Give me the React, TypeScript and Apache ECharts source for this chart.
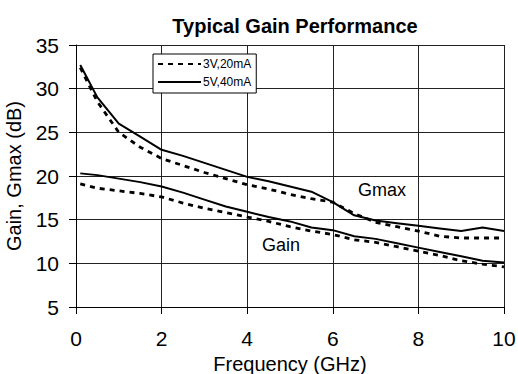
import React, { useEffect, useRef } from "react";
import * as echarts from "echarts";

const freq = [0.1, 0.5, 1, 1.5, 2, 2.5, 3, 3.5, 4, 4.5, 5, 5.5, 6, 6.5, 7, 7.5, 8, 8.5, 9, 9.5, 10];
const gmax5V = [32.7, 29.0, 26.0, 24.5, 23.0, 22.3, 21.5, 20.7, 19.9, 19.4, 18.8, 18.2, 17.0, 15.5, 14.9, 14.6, 14.3, 14.0, 13.7, 14.1, 13.7];
const gmax3V = [32.4, 28.5, 25.0, 23.3, 22.0, 21.2, 20.4, 19.7, 19.0, 18.5, 17.9, 17.4, 17.0, 15.7, 14.7, 14.2, 13.7, 13.1, 12.9, 12.9, 12.9];
const gain5V = [20.3, 20.1, 19.7, 19.3, 18.8, 18.1, 17.3, 16.5, 15.9, 15.3, 14.8, 14.1, 13.8, 13.1, 12.8, 12.3, 11.8, 11.3, 10.8, 10.3, 10.1];
const gain3V = [19.1, 18.6, 18.3, 18.0, 17.6, 16.9, 16.3, 15.8, 15.3, 14.8, 14.2, 13.7, 13.3, 12.7, 12.4, 11.9, 11.4, 10.9, 10.3, 9.9, 9.6];
const legendNames = ["3V,20mA", "5V,40mA"];
const titleText = "Typical Gain Performance";
const xName = "Frequency (GHz)";
const yName = "Gain, Gmax (dB)";
const curveLabels = ["Gmax", "Gain"];

const pairs = (ys: number[]) => freq.map((f, i) => [f, ys[i]]);

export default function App() {
  const ref = useRef<HTMLDivElement>(null);
  useEffect(() => {
    const chart = echarts.init(ref.current!, null, { renderer: "svg" });
    const font = "'Liberation Sans', Arial, sans-serif";
    const dashed = { color: "#000", width: 2.8, type: [5, 5] as any };
    const solid = { color: "#000", width: 2 };
    chart.setOption({
      animation: false,
      backgroundColor: "#fff",
      textStyle: { fontFamily: font },
      title: {
        text: titleText,
        left: 290,
        textAlign: "center",
        top: 11,
        textStyle: { fontFamily: font, fontSize: 20, fontWeight: "bold", color: "#000" },
      },
      legend: {
        left: 153,
        top: 54,
        orient: "vertical",
        itemWidth: 43,
        itemHeight: 12,
        itemGap: 6,
        padding: [4, 5, 5, 4],
        backgroundColor: "#fff",
        borderColor: "#000",
        borderWidth: 1,
        borderRadius: 0,
        data: legendNames,
        itemStyle: { color: "rgba(0,0,0,0)", borderWidth: 0, opacity: 0 },
        textStyle: { fontFamily: font, fontSize: 12, color: "#000", padding: [0, 0, 0, -3] },
      },
      grid: { left: 76, right: 14, top: 45, bottom: 67, outerBoundsMode: "none", containLabel: false },
      xAxis: {
        type: "value",
        min: 0,
        max: 10,
        interval: 2,
        name: xName,
        nameLocation: "middle",
        nameGap: 45,
        nameTextStyle: { fontFamily: font, fontSize: 20, color: "#000" },
        axisLine: { show: true, lineStyle: { color: "#000", width: 1 } },
        axisTick: { show: true, length: 7, lineStyle: { color: "#000" } },
        axisLabel: { fontFamily: font, fontSize: 21, color: "#000", margin: 21 },
        splitLine: { show: true, lineStyle: { color: "#222", width: 1 } },
      },
      yAxis: {
        type: "value",
        min: 5,
        max: 35,
        interval: 5,
        name: yName,
        nameLocation: "middle",
        nameGap: 52,
        nameRotate: 90,
        nameTextStyle: { fontFamily: font, fontSize: 20, color: "#000" },
        axisLine: { show: true, lineStyle: { color: "#000", width: 1 } },
        axisTick: { show: true, length: 7, lineStyle: { color: "#000" } },
        axisLabel: { fontFamily: font, fontSize: 21, color: "#000", margin: 17 },
        splitLine: { show: true, lineStyle: { color: "#222", width: 1 } },
      },
      series: [
        { name: legendNames[0], type: "line", data: pairs(gmax3V), symbol: "none", lineStyle: dashed, itemStyle: { color: "#000" } },
        { name: legendNames[1], type: "line", data: pairs(gmax5V), symbol: "none", lineStyle: solid, itemStyle: { color: "#000" } },
        { name: legendNames[0], type: "line", data: pairs(gain3V), symbol: "none", lineStyle: dashed, itemStyle: { color: "#000" } },
        { name: legendNames[1], type: "line", data: pairs(gain5V), symbol: "none", lineStyle: solid, itemStyle: { color: "#000" } },
      ],
      graphic: [
        { type: "text", left: 358, top: 181, style: { text: curveLabels[0], font: `18px ${font}`, fill: "#000" } },
        { type: "text", left: 262, top: 236, style: { text: curveLabels[1], font: `18px ${font}`, fill: "#000" } },
      ],
    });
    return () => chart.dispose();
  }, []);
  return <div ref={ref} style={{ position: "absolute", left: 0, top: 0, width: 518, height: 374 }} />;
}
